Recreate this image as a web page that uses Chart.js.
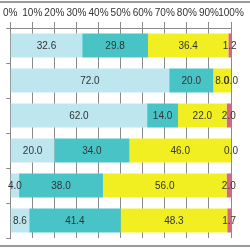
<!DOCTYPE html>
<html>
<head>
<meta charset="utf-8">
<script src="https://cdn.jsdelivr.net/npm/chart.js"></script>
<style>
  html, body { margin: 0; padding: 0; background: #fff; }
  #wrap { width: 250px; height: 250px; position: relative; }
</style>
</head>
<body>
<div id="wrap"><canvas id="myChart" width="250" height="250"></canvas></div>
<script>
var categories = ["A", "B", "C", "D", "E", "F"];
var series1 = [32.6, 72.0, 62.0, 20.0, 4.0, 8.6];
var series2 = [29.8, 20.0, 14.0, 34.0, 38.0, 41.4];
var series3 = [36.4, 8.0, 22.0, 46.0, 56.0, 48.3];
var series4 = [1.2, 0.0, 2.0, 0.0, 2.0, 1.7];
var tickValues = [0, 10, 20, 30, 40, 50, 60, 70, 80, 90, 100];
var barColor = ["#bde6ef", "#48c4c7", "#f1ef22", "#d4687e"];

// numbers in the middle of each segment
var valueLabels = {
  id: "valueLabels",
  afterDatasetsDraw: function(chart) {
    var ctx = chart.ctx;
    ctx.save();
    ctx.font = "10px 'Liberation Sans', Arial, sans-serif";
    ctx.fillStyle = "#333";
    ctx.textAlign = "center";
    ctx.textBaseline = "middle";
    chart.data.datasets.forEach(function(ds, i) {
      chart.getDatasetMeta(i).data.forEach(function(bar, j) {
        ctx.fillText(ds.data[j].toFixed(1), (bar.x + bar.base) / 2, bar.y + 1);
      });
    });
    ctx.restore();
  }
};

// grey frame lines top and bottom
var frame = {
  id: "frame",
  beforeDraw: function(chart) {
    var ctx = chart.ctx;
    ctx.save();
    ctx.strokeStyle = "#9a9a9a";
    ctx.lineWidth = 2;
    ctx.beginPath();
    ctx.moveTo(0, 2); ctx.lineTo(250, 2);
    ctx.moveTo(0, 246); ctx.lineTo(250, 246);
    ctx.stroke();
    ctx.restore();
  }
};

new Chart("myChart", {
  type: "bar",
  data: {
    labels: categories,
    datasets: [
      { data: series1, backgroundColor: barColor[0] },
      { data: series2, backgroundColor: barColor[1] },
      { data: series3, backgroundColor: barColor[2] },
      { data: series4, backgroundColor: barColor[3] }
    ]
  },
  options: {
    indexAxis: "y",
    responsive: false,
    animation: false,
    layout: { padding: { left: 0, right: 19, top: 0, bottom: 12 } },
    datasets: { bar: { barPercentage: 0.69, categoryPercentage: 1 } },
    plugins: { legend: { display: false }, tooltip: { enabled: false } },
    scales: {
      x: {
        position: "top",
        stacked: true,
        min: 0,
        max: 100,
        afterBuildTicks: function(scale) {
          scale.ticks = tickValues.map(function(v) { return { value: v }; });
        },
        afterFit: function(scale) { scale.height = 28; },
        ticks: {
          callback: function(v) { return v + "%"; },
          font: { size: 10, family: "'Liberation Sans Narrow', 'Liberation Sans', sans-serif" },
          color: "#333",
          padding: 3,
          autoSkip: false,
          maxRotation: 0
        },
        grid: { color: "#8a8a8a", tickLength: 6 },
        border: { color: "#8a8a8a" }
      },
      y: {
        stacked: true,
        afterFit: function(scale) { scale.width = 8; },
        ticks: { display: false },
        grid: { offset: true, drawOnChartArea: false, tickLength: 4, color: "#8a8a8a" },
        border: { color: "#8a8a8a" }
      }
    }
  },
  plugins: [valueLabels, frame]
});
</script>
</body>
</html>
